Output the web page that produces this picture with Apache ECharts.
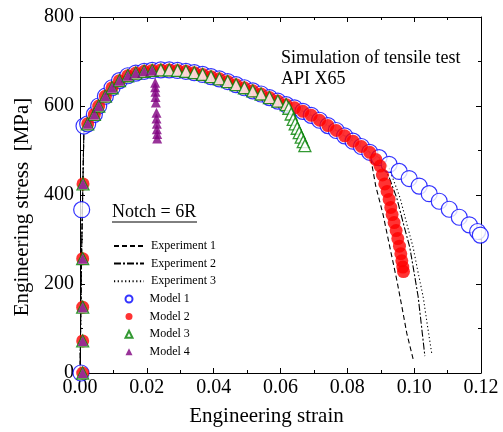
<!DOCTYPE html>
<html>
<head>
<meta charset="utf-8">
<script src="https://cdn.jsdelivr.net/npm/echarts@6/dist/echarts.min.js"></script>
<style>
  html, body { margin: 0; padding: 0; background: #fff; }
  #chart { width: 503px; height: 432px; }
</style>
</head>
<body>
<div id="chart"></div>
<script>
// values (strain, stress MPa)
const elasticPts = [[0.0008, 0], [0.0008, 72], [0.0008, 148], [0.0008, 257], [0.0009, 425]];
const model1Elastic = [[0.0003, 0], [0.0005, 367], [0.0012, 555]];
const expElastic = [[0, 0], [0.0005, 280], [0.0012, 560]];

// common hardening path shared by all models
const hardening = [
  [0.0023, 560], [0.0043, 581], [0.0056, 600], [0.0076, 622], [0.0096, 641],
  [0.0118, 657], [0.0143, 668], [0.0167, 674], [0.0192, 678], [0.0216, 680],
  [0.0242, 681], [0.0267, 681], [0.0292, 680], [0.0317, 678], [0.0342, 675],
  [0.0367, 671], [0.0392, 666], [0.0417, 661], [0.0442, 655], [0.0467, 648],
  [0.0492, 641], [0.0517, 634], [0.0542, 627], [0.0567, 619], [0.0592, 611],
  [0.0617, 603]
];
// softening part shared by models 1 and 2
const softening = [
  [0.0642, 596], [0.0667, 588], [0.0692, 579], [0.0717, 568], [0.0742, 556],
  [0.0767, 545], [0.0792, 533], [0.0817, 521], [0.0842, 509], [0.0867, 496]
];
const model1Tail = [
  [0.0895, 484], [0.0925, 469], [0.0955, 453], [0.0985, 437], [0.1015, 420],
  [0.1045, 403], [0.1075, 386], [0.1105, 368], [0.1135, 350], [0.1165, 333],
  [0.1190, 318], [0.1198, 310]
];
const model2Drop = [
  [0.0885, 480], [0.0898, 465], [0.0905, 445], [0.0912, 425], [0.0919, 408],
  [0.0925, 390], [0.0930, 372], [0.0934, 356], [0.0940, 338], [0.0946, 320],
  [0.0951, 302], [0.0956, 285], [0.0960, 268], [0.0963, 252], [0.0966, 238],
  [0.0968, 228]
];
const model3Drop = [
  [0.0625, 595], [0.0632, 582], [0.0638, 570], [0.0644, 560], [0.0650, 550],
  [0.0656, 540], [0.0662, 530], [0.0668, 520], [0.0673, 511]
];
const model4Drop = [
  [0.0225, 652], [0.0225, 642], [0.0226, 632], [0.0226, 620], [0.0227, 608],
  [0.0229, 585], [0.0229, 572], [0.0230, 560], [0.0230, 548], [0.0231, 537],
  [0.0231, 527]
];
const exp1Drop = [
  [0.0885, 420], [0.0907, 356], [0.0928, 280], [0.0948, 209], [0.0963, 150],
  [0.0978, 89], [0.0997, 31]
];
const exp2Drop = [
  [0.0895, 484], [0.0925, 440], [0.0948, 393], [0.0968, 335], [0.0987, 282],
  [0.1000, 225], [0.1012, 171], [0.1022, 105], [0.1032, 38]
];
const exp3Drop = [
  [0.0895, 484], [0.0925, 460], [0.0940, 430], [0.0958, 393], [0.0978, 335],
  [0.0997, 282], [0.1012, 225], [0.1027, 171], [0.1040, 105], [0.1053, 42]
];

const xTicks = { min: 0, max: 0.12, interval: 0.02 };
const yTicks = { min: 0, max: 800, interval: 200 };

const font = "Liberation Serif";
const chart = echarts.init(document.getElementById("chart"));

const frameAxis = (extra) => Object.assign({
  type: "value",
  axisLine: { show: true, onZero: false, lineStyle: { color: "#000", width: 1 } },
  axisTick: { show: true, inside: true, length: 5, lineStyle: { color: "#000" } },
  minorTick: { show: true, splitNumber: 2, length: 3, lineStyle: { color: "#000" } },
  splitLine: { show: false },
}, extra);

const expLine = (name, data, type) => ({
  name, type: "line", data, symbol: "none", z: 2,
  lineStyle: { color: "#000", width: 1.1, type },
  itemStyle: { color: "#000" },
});

const option = {
  animation: false,
  backgroundColor: "#fff",
  textStyle: { fontFamily: font },
  grid: { left: 80, right: 22, top: 17, bottom: 55 },
  xAxis: [
    frameAxis({
      position: "bottom", ...xTicks,
      name: "Engineering strain", nameLocation: "middle", nameGap: 33,
      // the title sits a little left of the plot centre in the reference
      nameTextStyle: { fontFamily: font, fontSize: 21, color: "#000", padding: [0, 28, 0, 0] },
      axisLabel: { fontFamily: font, fontSize: 20, color: "#000", margin: 5,
        formatter: (v) => v.toFixed(2) },
    }),
    frameAxis({ position: "top", ...xTicks, axisLabel: { show: false } }),
  ],
  yAxis: [
    frameAxis({
      position: "left", ...yTicks,
      name: "Engineering stress  [MPa]", nameLocation: "middle", nameGap: 44,
      nameTextStyle: { fontFamily: font, fontSize: 21, color: "#000", padding: [0, 24, 0, 0] },
      axisLabel: { fontFamily: font, fontSize: 20, color: "#000", margin: 6 },
    }),
    frameAxis({ position: "right", ...yTicks, axisLabel: { show: false } }),
  ],
  legend: [
    {
      data: ["Experiment 1", "Experiment 2", "Experiment 3"],
      orient: "vertical", left: 113, top: 240, padding: 0,
      itemWidth: 30, itemHeight: 12, itemGap: 5.6,
      itemStyle: { opacity: 0 },
      textStyle: { fontFamily: font, fontSize: 12, color: "#000", padding: [0, 0, 0, 2] },
      selectedMode: false,
    },
    {
      data: ["Model 1", "Model 2", "Model 3", "Model 4"],
      orient: "vertical", left: 124.5, top: 293, padding: 0,
      itemWidth: 7, itemHeight: 7, itemGap: 5.6,
      textStyle: { fontFamily: font, fontSize: 12, color: "#000", padding: [0, 0, 0, 12] },
      selectedMode: false,
    },
  ],
  graphic: [
    { type: "text", left: 281, top: 49,
      style: { text: "Simulation of tensile test", font: "18px " + font, fill: "#000" } },
    { type: "text", left: 281, top: 70,
      style: { text: "API X65", font: "18px " + font, fill: "#000" } },
    { type: "text", left: 112, top: 203,
      style: { text: "Notch = 6R", font: "18px " + font, fill: "#000" } },
    { type: "line", shape: { x1: 112, y1: 222, x2: 197, y2: 222 },
      style: { stroke: "#000", lineWidth: 1 } },
  ],
  series: [
    expLine("Experiment 1", [...expElastic, ...hardening, ...softening, ...exp1Drop], [5, 3]),
    expLine("Experiment 2", [...expElastic, ...hardening, ...softening, ...exp2Drop], [7, 2, 2, 2]),
    expLine("Experiment 3", [...expElastic, ...hardening, ...softening, ...exp3Drop], [1.2, 2.5]),
    {
      name: "Model 1", type: "scatter", symbol: "circle", symbolSize: 16, z: 3,
      data: [...model1Elastic, ...hardening, ...softening, ...model1Tail],
      itemStyle: { color: "#fff", borderColor: "#0000ff", borderWidth: 1.2 },
    },
    {
      name: "Model 2", type: "scatter", symbol: "circle", symbolSize: 13, z: 4,
      data: [...elasticPts, ...hardening, ...softening, ...model2Drop],
      itemStyle: { color: "#ff0000" },
    },
    {
      name: "Model 3", type: "scatter", symbol: "triangle", symbolSize: 12, z: 5,
      data: [...elasticPts, ...hardening, ...model3Drop],
      itemStyle: { color: "#fff", borderColor: "#008000", borderWidth: 1.3 },
    },
    {
      name: "Model 4", type: "scatter", symbol: "triangle", symbolSize: 10, z: 6,
      data: [...elasticPts, ...hardening.slice(0, 10), ...model4Drop],
      itemStyle: { color: "#800080" },
    },
  ],
};

chart.setOption(option);
</script>
</body>
</html>
